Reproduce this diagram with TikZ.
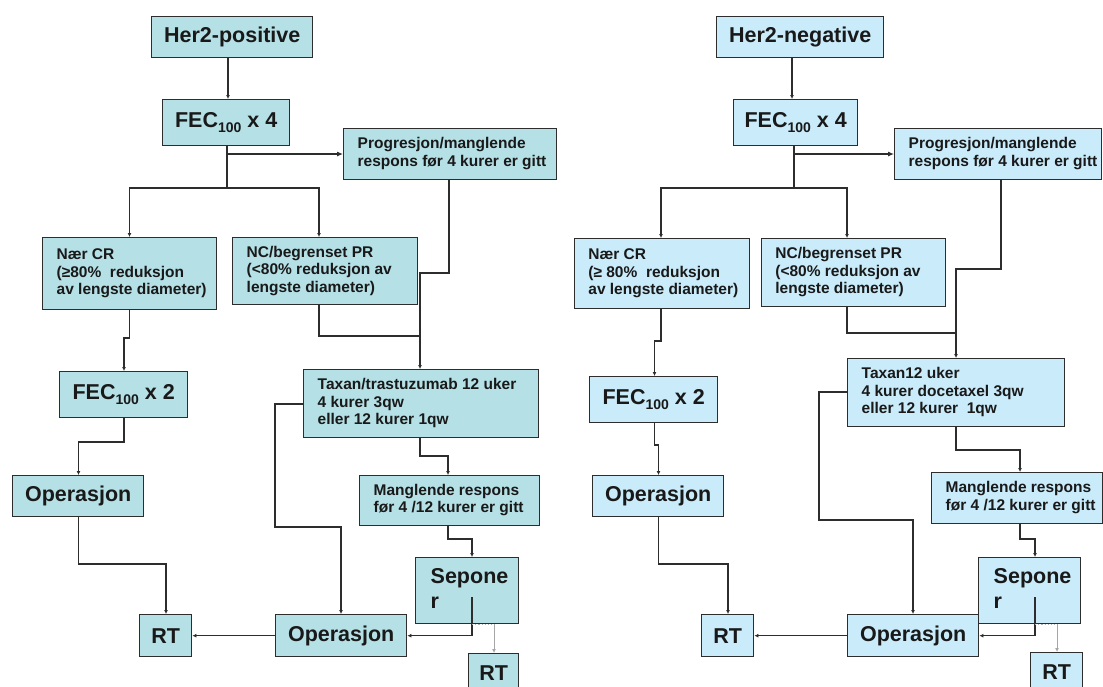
\documentclass[tikz,border=0pt]{standalone}
\usepackage{fontspec}
\setmainfont{Liberation Sans}
\usetikzlibrary{arrows.meta}
\definecolor{fillL}{RGB}{181,224,229}
\definecolor{fillR}{RGB}{201,235,250}
\definecolor{bd}{RGB}{45,45,45}
\definecolor{txt}{RGB}{25,25,25}
\newcommand\cbox[7]{%
  \pgfmathsetmacro\bw{#5-#3}\pgfmathsetmacro\bh{#6-#4}%
  \node[#1, minimum width=\bw pt, minimum height=\bh pt] (#2) at (#3,#4) {#7};}
\newcommand\lbox[8]{%
  \pgfmathsetmacro\bw{#6-#4}\pgfmathsetmacro\bh{#7-#5}%
  \node[#1, minimum width=\bw pt, minimum height=\bh pt] (#3) at (#4,#5)
    {\makebox[\bw pt][l]{\hspace*{#2pt}\begin{tabular}{@{}l@{}}#8\end{tabular}}};}
\newcommand\sub[1]{{\fontsize{14}{14}\selectfont\raisebox{-5pt}{#1}}}
\begin{document}
\begin{tikzpicture}[x=1pt,y=-1pt,
  base/.style={draw=bd, line width=1.4pt, anchor=north west, inner sep=0pt, text=txt},
  bigC/.style={base, font=\bfseries\fontsize{21.5}{25}\selectfont},
  smL/.style={base, font=\bfseries\fontsize{15.5}{17.5}\selectfont},
  fL/.style={fill=fillL}, fR/.style={fill=fillR},
  ln/.style={draw=bd, line width=1.1pt},
  arr/.style={ln, -{Latex[length=4pt,width=4pt]}},
  bigarr/.style={ln, -{Latex[length=6pt,width=5pt]}},
  garr/.style={draw=gray!70, line width=0.9pt, -{Latex[length=4pt,width=4pt]}},
  gdot/.style={draw=gray!60, dotted, line width=1.2pt}]
\useasboundingbox (0,0) rectangle (1103,686);
\fill[white] (0,0) rectangle (1103,686);

% ---------- left panel: Her2-positive ----------
\cbox{bigC,fL}{her2p}{151}{16}{312}{57}{Her2-positive}
\cbox{bigC,fL}{fec4L}{162}{99}{289}{145}{FEC\sub{100} x 4}
\lbox{smL,fL}{14}{progL}{343}{128}{556}{179}{Progresjon/manglende\\respons før 4 kurer er gitt}
\lbox{smL,fL}{14}{nearL}{42}{237}{216}{309}{Nær CR\\(≥80\%\ \ reduksjon\\av lengste diameter)}
\lbox{smL,fL}{14}{ncL}{232}{237}{417}{304}{NC/begrenset PR\\(<80\% reduksjon av\\lengste diameter)}
\lbox{smL,fL}{14}{taxL}{303}{369}{538}{437}{Taxan/trastuzumab 12 uker\\4 kurer 3qw\\eller 12 kurer 1qw}
\cbox{bigC,fL}{fec2L}{59}{371}{187}{417}{FEC\sub{100} x 2}
\cbox{bigC,fL}{opL}{12}{475}{143}{516}{Operasjon}
\lbox{smL,fL}{14}{mangL}{359}{475}{539}{525}{Manglende respons\\før 4 /12 kurer er gitt}
\cbox{bigC,fL}{rtL}{139}{614}{191}{656}{RT}
\cbox{bigC,fL}{op2L}{275}{614}{406}{656}{Operasjon}
\lbox{bigC,fL}{15}{sepL}{415}{557}{518}{623}{Sepone\\r}
\cbox{bigC,fL}{rt2L}{468}{653}{518}{692}{RT}

\coordinate (brL) at (227,188);
\coordinate (jL) at (227,154);
\draw[arr] (228,0 |- her2p.south) -- (228,0 |- fec4L.north);
\draw[ln] (227,0 |- fec4L.south) -- (brL);
\draw[bigarr] (jL) -- (jL -| progL.west);
\draw[arr] (brL) -- (129.5,188) -- (129.5,0 |- nearL.north);
\draw[arr] (brL) -- (319,188) -- (319,0 |- ncL.north);
\draw[arr] (449,0 |- progL.south) -- (449,273) -- (420,273) -- (420,0 |- taxL.north);
\draw[ln] (319,0 |- ncL.south) -- (319,336) -- (420,336);
\draw[arr] (129.5,0 |- nearL.south) -- (129.5,338) -- (124,338) -- (124,0 |- fec2L.north);
\draw[arr] (124,0 |- fec2L.south) -- (124,442) -- (78.5,442) -- (78.5,0 |- opL.north);
\draw[arr] (78.5,0 |- opL.south) -- (78.5,564) -- (166,564) -- (166,0 |- rtL.north);
\draw[arr] (taxL.west |- 0,404) -- (275,404) -- (275,527) -- (341,527) -- (341,0 |- op2L.north);
\draw[arr] (420,0 |- taxL.south) -- (420,456) -- (448,456) -- (448,0 |- mangL.north);
\draw[arr] (448,0 |- mangL.south) -- (448,539) -- (472,539) -- (472,0 |- sepL.north);
\coordinate (sLin) at (472,597);
\draw[arr] (sLin) -- (sLin |- op2L.east) -- (op2L.east);
\draw[arr] (op2L.west) -- (rtL.east);
\draw[gdot] (472,0 |- sepL.south) -- (494,0 |- sepL.south);
\draw[garr] (494,0 |- sepL.south) -- (494,0 |- rt2L.north);

% ---------- right panel: Her2-negative ----------
\cbox{bigC,fR}{her2n}{716}{16}{883}{57}{Her2-negative}
\cbox{bigC,fR}{fec4R}{733}{99}{857}{145}{FEC\sub{100} x 4}
\lbox{smL,fR}{14}{progR}{894}{128}{1101}{179}{Progresjon/manglende\\respons før 4 kurer er gitt}
\lbox{smL,fR}{13.7}{nearR}{574}{238}{749}{308}{Nær CR\\(≥ 80\%\ \ reduksjon\\av lengste diameter)}
\lbox{smL,fR}{13.7}{ncR}{761}{238}{945}{306}{NC/begrenset PR\\(<80\% reduksjon av\\lengste diameter)}
\lbox{smL,fR}{14}{taxR}{847}{358}{1064}{426}{Taxan12 uker\\4 kurer docetaxel 3qw\\eller 12 kurer\ \ 1qw}
\cbox{bigC,fR}{fec2R}{589}{376}{717}{422}{FEC\sub{100} x 2}
\cbox{bigC,fR}{opR}{592}{475}{723}{516}{Operasjon}
\lbox{smL,fR}{14}{mangR}{931}{472}{1102}{523}{Manglende respons\\før 4 /12 kurer er gitt}
\cbox{bigC,fR}{rtR}{701}{614}{753}{656}{RT}
\cbox{bigC,fR}{op2R}{847}{614}{978}{656}{Operasjon}
\lbox{bigC,fR}{15}{sepR}{978}{557}{1080}{623}{Sepone\\r}
\cbox{bigC,fR}{rt2R}{1030}{652}{1082}{691}{RT}

\coordinate (brR) at (794,188);
\coordinate (jR) at (794,154);
\draw[arr] (792,0 |- her2n.south) -- (792,0 |- fec4R.north);
\draw[ln] (794,0 |- fec4R.south) -- (brR);
\draw[bigarr] (jR) -- (jR -| progR.west);
\draw[arr] (brR) -- (661,188) -- (661,0 |- nearR.north);
\draw[arr] (brR) -- (847,188) -- (847,0 |- ncR.north);
\draw[arr] (1001,0 |- progR.south) -- (1001,269) -- (956,269) -- (956,0 |- taxR.north);
\draw[ln] (847,0 |- ncR.south) -- (847,333) -- (956,333);
\draw[arr] (661,0 |- nearR.south) -- (661,341) -- (654.5,341) -- (654.5,0 |- fec2R.north);
\draw[arr] (654.5,0 |- fec2R.south) -- (654.5,445) -- (658.5,445) -- (658.5,0 |- opR.north);
\draw[arr] (658.5,0 |- opR.south) -- (658.5,564) -- (728,564) -- (728,0 |- rtR.north);
\draw[arr] (taxR.west |- 0,392) -- (819,392) -- (819,520) -- (913,520) -- (913,0 |- op2R.north);
\draw[arr] (956,0 |- taxR.south) -- (956,450) -- (1020,450) -- (1020,0 |- mangR.north);
\draw[arr] (1020,0 |- mangR.south) -- (1020,539) -- (1035,539) -- (1035,0 |- sepR.north);
\coordinate (sRin) at (1035,597);
\draw[arr] (sRin) -- (sRin |- op2R.east) -- (op2R.east);
\draw[arr] (op2R.west) -- (rtR.east);
\draw[gdot] (1035,0 |- sepR.south) -- (1057,0 |- sepR.south);
\draw[garr] (1057,0 |- sepR.south) -- (1057,0 |- rt2R.north);
\end{tikzpicture}
\end{document}
